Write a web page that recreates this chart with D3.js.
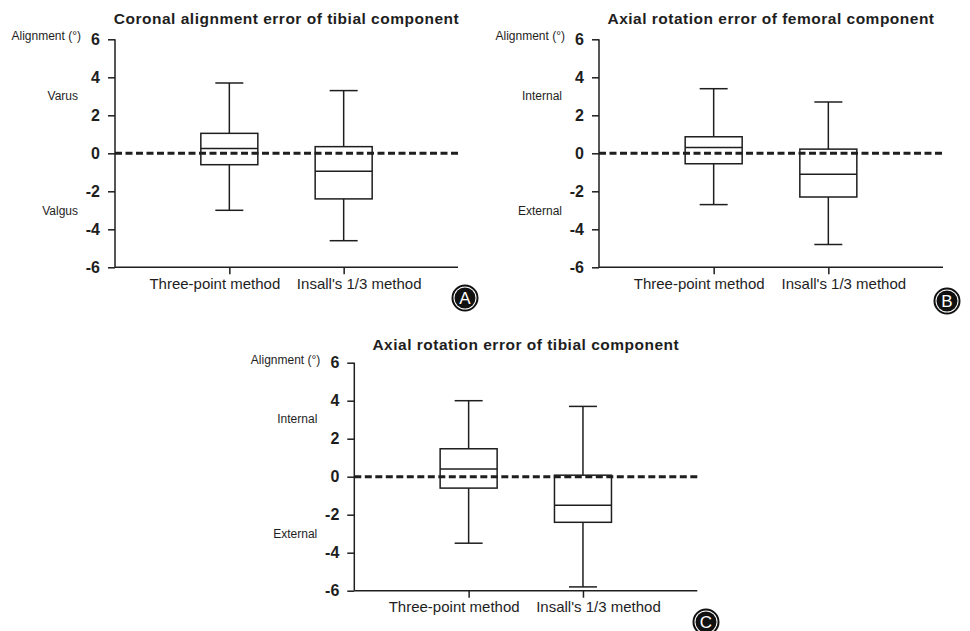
<!DOCTYPE html>
<html>
<head>
<meta charset="utf-8">
<script src="https://cdn.jsdelivr.net/npm/d3@7"></script>
<style>
  body { margin: 0; background: #fff; }
  svg { display: block; font-family: "Liberation Sans", Arial, Helvetica, sans-serif; }
</style>
</head>
<body>
<div id="chart"></div>
<script>
// groups on the x axis
var categories = ["Three-point method", "Insall's 1/3 method"];
var yTicks = [-6, -4, -2, 0, 2, 4, 6];

var panelTitles = [
    "Coronal alignment error of tibial component",
    "Axial rotation error of femoral component",
    "Axial rotation error of tibial component"
];
var panelLetters = ["A", "B", "C"];
var upperLabels = ["Varus", "Internal", "Internal"];
var lowerLabels = ["Valgus", "External", "External"];

// [low whisker, Q1, median, Q3, high whisker] for each category
var coronalTibial = [[-3.0, -0.6, 0.25, 1.05, 3.7], [-4.6, -2.4, -0.95, 0.35, 3.3]];
var axialFemoral  = [[-2.7, -0.55, 0.3, 0.87, 3.4], [-4.8, -2.3, -1.1, 0.22, 2.7]];
var axialTibial   = [[-3.5, -0.6, 0.4, 1.47, 4.0], [-5.8, -2.4, -1.5, 0.08, 3.7]];

var panelStats = [coronalTibial, axialFemoral, axialTibial];

var W = 970, H = 631,
    ink = "#1e1e1e";

// where each panel's axes sit
var panelPos = [
    {x0: 115, x1: 458, yTop: 39.3, titleY: 24, badge: [465, 298]},
    {x0: 599, x1: 943, yTop: 39.3, titleY: 24, badge: [947, 301]},
    {x0: 354.3, x1: 697.3, yTop: 362.7, titleY: 350, badge: [706, 622]}
];
var plotH = 228;

var svg = d3.select("#chart").append("svg")
    .attr("width", W)
    .attr("height", H);

panelPos.forEach(function(pos, ix) {
    var stats = panelStats[ix];
    var g = svg.append("g");

    var x = d3.scalePoint().domain(categories).range([pos.x0, pos.x1]).padding(1);
    var y = d3.scaleLinear().domain([-6, 6]).range([pos.yTop + plotH, pos.yTop]);

    // y axis
    var yAxis = g.append("g")
        .attr("transform", "translate(" + pos.x0 + ",0)")
        .call(d3.axisLeft(y).tickValues(yTicks).tickSize(7).tickPadding(8).tickFormat(d3.format("d")));
    yAxis.select(".domain").attr("d", "M0," + y(6) + "V" + y(-6));
    yAxis.selectAll("line").attr("stroke", ink).attr("stroke-width", 1.5);
    yAxis.select(".domain").attr("stroke", ink).attr("stroke-width", 1.5);
    yAxis.selectAll("text")
        .attr("fill", ink)
        .style("font-size", "16px")
        .style("font-weight", "bold")
        .text(function(d) { return d < 0 ? "-" + Math.abs(d) : d; });

    // x axis
    var xAxis = g.append("g")
        .attr("transform", "translate(0," + y(-6) + ")")
        .call(d3.axisBottom(x).tickSize(7).tickPadding(10));
    xAxis.select(".domain").attr("d", "M" + pos.x0 + ",0H" + pos.x1)
        .attr("stroke", ink).attr("stroke-width", 1.5);
    xAxis.selectAll("line").attr("stroke", ink).attr("stroke-width", 1.5);
    // labels sit spread a little apart from their ticks
    xAxis.selectAll("text")
        .attr("fill", ink)
        .attr("dy", "0.3em")
        .attr("dx", function(d, i) { return i === 0 ? -15 : 15; })
        .style("font-size", "15px");

    // boxes
    var bw = 57, cw = 28;
    var box = g.selectAll(".box").data(stats).enter()
        .append("g").attr("class", "box");

    box.append("line")
        .attr("x1", function(d, i) { return x(categories[i]); })
        .attr("x2", function(d, i) { return x(categories[i]); })
        .attr("y1", function(d) { return y(d[0]); })
        .attr("y2", function(d) { return y(d[4]); })
        .attr("stroke", ink).attr("stroke-width", 1.5);

    box.selectAll(".cap").data(function(d, i) {
        return [{v: d[0], c: categories[i]}, {v: d[4], c: categories[i]}];
    }).enter().append("line")
        .attr("x1", function(d) { return x(d.c) - cw / 2; })
        .attr("x2", function(d) { return x(d.c) + cw / 2; })
        .attr("y1", function(d) { return y(d.v); })
        .attr("y2", function(d) { return y(d.v); })
        .attr("stroke", ink).attr("stroke-width", 1.5);

    box.append("rect")
        .attr("x", function(d, i) { return x(categories[i]) - bw / 2; })
        .attr("y", function(d) { return y(d[3]); })
        .attr("width", bw)
        .attr("height", function(d) { return y(d[1]) - y(d[3]); })
        .attr("fill", "#fff")
        .attr("stroke", ink).attr("stroke-width", 1.5);

    box.append("line")
        .attr("x1", function(d, i) { return x(categories[i]) - bw / 2; })
        .attr("x2", function(d, i) { return x(categories[i]) + bw / 2; })
        .attr("y1", function(d) { return y(d[2]); })
        .attr("y2", function(d) { return y(d[2]); })
        .attr("stroke", ink).attr("stroke-width", 1.5);

    // zero reference
    g.append("line")
        .attr("x1", pos.x0).attr("x2", pos.x1)
        .attr("y1", y(0)).attr("y2", y(0))
        .attr("stroke", ink)
        .attr("stroke-width", 3)
        .attr("stroke-dasharray", "7,3.5");

    // title
    g.append("text")
        .attr("x", (pos.x0 + pos.x1) / 2)
        .attr("y", pos.titleY)
        .attr("text-anchor", "middle")
        .attr("fill", ink)
        .style("font-size", "15.5px")
        .style("font-weight", "bold")
        .style("letter-spacing", "0.5px")
        .text(panelTitles[ix]);

    // side labels
    g.append("text")
        .attr("x", pos.x0 - 34).attr("y", y(6) + 1)
        .attr("text-anchor", "end")
        .attr("fill", ink)
        .style("font-size", "12px")
        .text("Alignment (°)");

    g.append("text")
        .attr("x", pos.x0 - 37).attr("y", y(3.05))
        .attr("dy", "0.35em")
        .attr("text-anchor", "end")
        .attr("fill", ink)
        .style("font-size", "12px")
        .text(upperLabels[ix]);

    g.append("text")
        .attr("x", pos.x0 - 37).attr("y", y(-3))
        .attr("dy", "0.35em")
        .attr("text-anchor", "end")
        .attr("fill", ink)
        .style("font-size", "12px")
        .text(lowerLabels[ix]);

    // panel letter badge
    var badge = g.append("g").attr("transform", "translate(" + pos.badge[0] + "," + pos.badge[1] + ")");
    badge.append("circle").attr("r", 12.5).attr("fill", "none").attr("stroke", "#111").attr("stroke-width", 2);
    badge.append("circle").attr("r", 10.5).attr("fill", "#111");
    badge.append("text")
        .attr("text-anchor", "middle")
        .attr("dy", "0.36em")
        .attr("fill", "#fff")
        .style("font-size", "17px")
        .text(panelLetters[ix]);
});
</script>
</body>
</html>
